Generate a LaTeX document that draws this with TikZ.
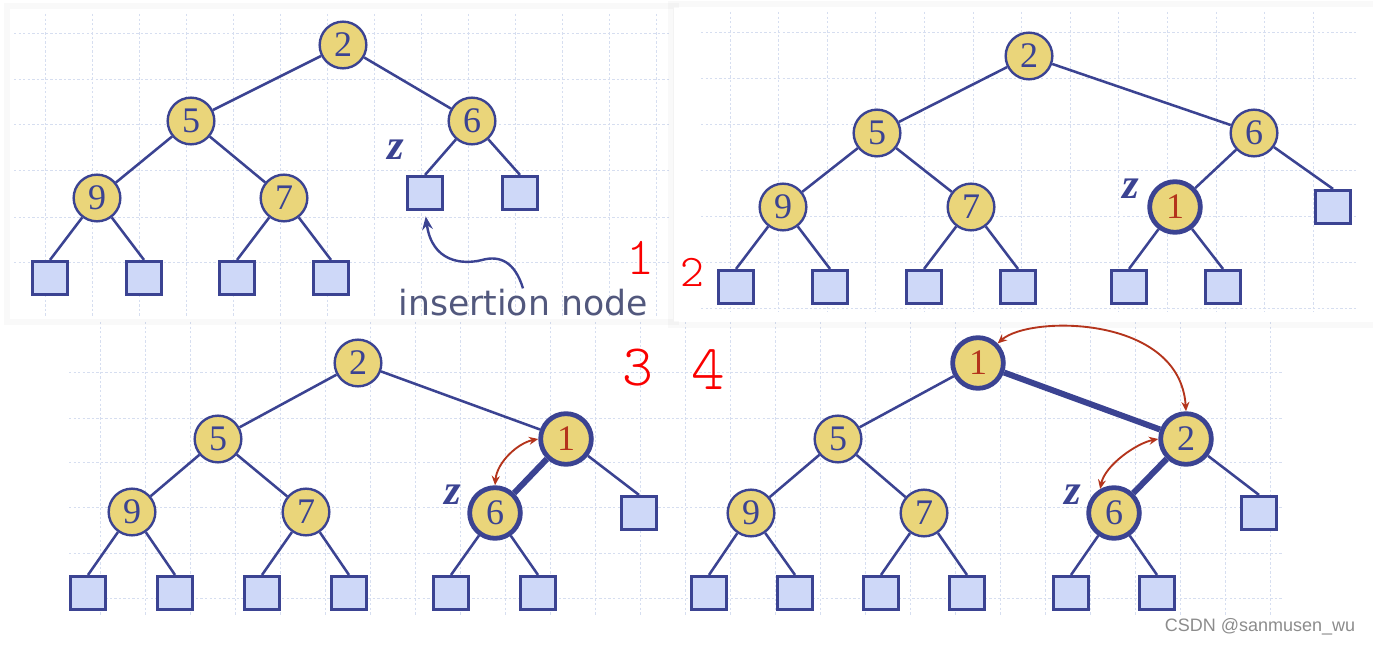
\documentclass[tikz,border=0pt]{standalone}
\usepackage{fontspec}
\setmainfont{Liberation Serif}
\newfontfamily\dejavu{DejaVu Sans}
\newfontfamily\arialf{Liberation Sans}
\newfontfamily\handf{lmmonolt10-regular}[Extension=.otf]
\usetikzlibrary{arrows.meta}
\definecolor{navy}{RGB}{59,67,146}
\definecolor{nodey}{RGB}{234,213,122}
\definecolor{leafb}{RGB}{206,216,248}
\definecolor{arcred}{RGB}{180,52,28}
\definecolor{hand}{RGB}{250,0,0}
\definecolor{gridc}{RGB}{214,222,240}
\definecolor{instxt}{RGB}{82,88,125}
\tikzset{
 hnode/.style={circle, draw=navy, fill=nodey, line width=1.8pt, minimum size=35pt, inner sep=0pt, font=\fontsize{27}{27}\selectfont, text=navy},
 hbold/.style={hnode, line width=3.6pt, minimum size=38pt},
 leaf/.style={rectangle, draw=navy, fill=leafb, line width=2.1pt, minimum width=26.5pt, minimum height=25pt, inner sep=0pt},
 edge/.style={draw=navy, line width=1.9pt},
 thickedge/.style={draw=navy, line width=4.5pt},
 zlab/.style={text=navy, font=\fontsize{32}{32}\selectfont\bfseries\itshape, inner sep=0pt},
 swaparc/.style={draw=arcred, line width=1.4pt, {Stealth[length=7pt,width=6pt]}-{Stealth[length=7pt,width=6pt]}},
 gridl/.style={draw=gridc, line width=0.6pt, dash pattern=on 1.8pt off 1.6pt},
 handnum/.style={text=hand, inner sep=0pt},
}
\begin{document}
\begin{tikzpicture}[x=0.75pt,y=-0.75pt]
\useasboundingbox (0,0) rectangle (1373,645);
\fill[white] (0,0) rectangle (1373,645);
% lower background grid
\foreach \k in {0,...,26} \draw[gridl] ({100+45*\k},322) -- ({100+45*\k},615);
\foreach \y in {372,418,462,507,553,598} \draw[gridl] (69,\y) -- (1283,\y);
% panel 1
\foreach \i in {1,...,6} \draw[black, draw opacity=0.025, line width=0.75pt] ({10-\i},{10-\i}) rectangle ({672+\i},{318+\i});
\fill[white] (10,10) rectangle (672,318);
\foreach \k in {0,...,13} \draw[gridl] ({45+47*\k},14) -- ({45+47*\k},316);
\foreach \y in {33,79,124,170,217,262} \draw[gridl] (14,\y) -- (670,\y);
% panel 2
\foreach \i in {1,...,6} \draw[black, draw opacity=0.025, line width=0.75pt] ({674-\i},{8-\i}) rectangle ({1380},{321+\i});
\fill[white] (674,8) rectangle (1373,321);
\foreach \k in {0,...,12} \draw[gridl] ({730+48.6*\k},12) -- ({730+48.6*\k},312);
\foreach \y in {32,78,124,170,216,262,308} \draw[gridl] (701,\y) -- (1356,\y);

% ---------- tree 1 ----------
\node[hnode] (a2) at (343,45) {2};
\node[hnode] (a5) at (191,121) {5};
\node[hnode] (a6) at (472,121) {6};
\node[hnode] (a9) at (97,198) {9};
\node[hnode] (a7) at (284,198) {7};
\node[leaf] (al1) at (50,278) {};
\node[leaf] (al2) at (144,278) {};
\node[leaf] (al3) at (237,278) {};
\node[leaf] (al4) at (331,278) {};
\node[leaf] (al5) at (425,193) {};
\node[leaf] (al6) at (520,193) {};
\draw[edge] (a2)--(a5) (a2)--(a6) (a5)--(a9) (a5)--(a7)
 (a9)--(al1.north) (a9)--(al2.north) (a7)--(al3.north) (a7)--(al4.north)
 (a6)--(al5.north) (a6)--(al6.north);
\node[zlab] (az) at (396,150) {z};
\node[text=instxt, font=\dejavu\fontsize{26}{26}\selectfont, anchor=base, inner sep=0pt] (ins) at (523,315) {insertion node};
\draw[navy, line width=1.8pt, shorten >=4pt, -{Stealth[length=10pt,width=8pt]}] (ins.north) .. controls (515,262) and (500,255) .. (482,260) .. controls (462,265) and (432,262) .. (al5.south);

% ---------- tree 2 ----------
\node[hnode] (b2) at (1029,56) {2};
\node[hnode] (b5) at (877,133) {5};
\node[hnode] (b6) at (1254,133) {6};
\node[hnode] (b9) at (783,207) {9};
\node[hnode] (b7) at (971,207) {7};
\node[hbold, text=arcred] (b1) at (1175,207) {1};
\node[leaf] (bl0) at (1333,207) {};
\node[leaf] (bl1) at (736,287) {};
\node[leaf] (bl2) at (830,287) {};
\node[leaf] (bl3) at (924,287) {};
\node[leaf] (bl4) at (1018,287) {};
\node[leaf] (bl5) at (1129,287) {};
\node[leaf] (bl6) at (1223,287) {};
\draw[edge] (b2)--(b5) (b2)--(b6) (b5)--(b9) (b5)--(b7) (b6)--(b1) (b6)--(bl0.north)
 (b9)--(bl1.north) (b9)--(bl2.north) (b7)--(bl3.north) (b7)--(bl4.north)
 (b1)--(bl5.north) (b1)--(bl6.north);
\node[zlab] (bz) at (1131,189) {z};

% ---------- tree 3 ----------
\node[hnode] (c2) at (358,363) {2};
\node[hnode] (c5) at (218,439) {5};
\node[hbold, text=arcred] (c1) at (566,439) {1};
\node[hnode] (c9) at (132,512) {9};
\node[hnode] (c7) at (306,512) {7};
\node[hbold] (c6) at (495,513) {6};
\node[leaf] (cl0) at (639,513) {};
\node[leaf] (cl1) at (88,593) {};
\node[leaf] (cl2) at (175,593) {};
\node[leaf] (cl3) at (262,593) {};
\node[leaf] (cl4) at (349,593) {};
\node[leaf] (cl5) at (451,593) {};
\node[leaf] (cl6) at (538,593) {};
\draw[edge] (c2)--(c5) (c2)--(c1) (c5)--(c9) (c5)--(c7) (c1)--(cl0.north)
 (c9)--(cl1.north) (c9)--(cl2.north) (c7)--(cl3.north) (c7)--(cl4.north)
 (c6)--(cl5.north) (c6)--(cl6.north);
\draw[thickedge] (c1)--(c6);
\node[zlab] (cz) at (453,495) {z};
\draw[swaparc] (c1.west) .. controls (518,443) and (497,462) .. (c6.north);

% ---------- tree 4 ----------
\node[hbold, text=arcred] (d1) at (978,363) {1};
\node[hnode] (d5) at (838,439) {5};
\node[hbold] (d2) at (1186,439) {2};
\node[hnode] (d9) at (751,513) {9};
\node[hnode] (d7) at (924,513) {7};
\node[hbold] (d6) at (1114,513) {6};
\node[leaf] (dl0) at (1259,513) {};
\node[leaf] (dl1) at (709,593) {};
\node[leaf] (dl2) at (795,593) {};
\node[leaf] (dl3) at (881,593) {};
\node[leaf] (dl4) at (967,593) {};
\node[leaf] (dl5) at (1071,593) {};
\node[leaf] (dl6) at (1157,593) {};
\draw[edge] (d1)--(d5) (d5)--(d9) (d5)--(d7) (d2)--(dl0.north)
 (d9)--(dl1.north) (d9)--(dl2.north) (d7)--(dl3.north) (d7)--(dl4.north)
 (d6)--(dl5.north) (d6)--(dl6.north);
\draw[thickedge] (d1)--(d2) (d2)--(d6);
\node[zlab] (dz) at (1073,495) {z};
\draw[swaparc] (d1.north east) .. controls (1030,315) and (1180,315) .. (d2.north);
\draw[swaparc] (d2.west) .. controls (1137,443) and (1105,465) .. (d6.120);

% ---------- annotations ----------
\node[handnum, font=\handf\fontsize{40}{40}\selectfont] (h1) at (640,258) {1};
\node[handnum, font=\handf\fontsize{34}{34}\selectfont] (h2) at (692,272) {2};
\node[handnum, font=\handf\fontsize{44}{44}\selectfont] (h3) at (638,368) {3};
\node[handnum, font=\handf\fontsize{48}{48}\selectfont] (h4) at (708,370) {4};
\node[text=black!45, font=\arialf\fontsize{13.5}{13.5}\selectfont, inner sep=0pt] (wm) at (1260,627) {CSDN @sanmusen\_wu};
\end{tikzpicture}
\end{document}
